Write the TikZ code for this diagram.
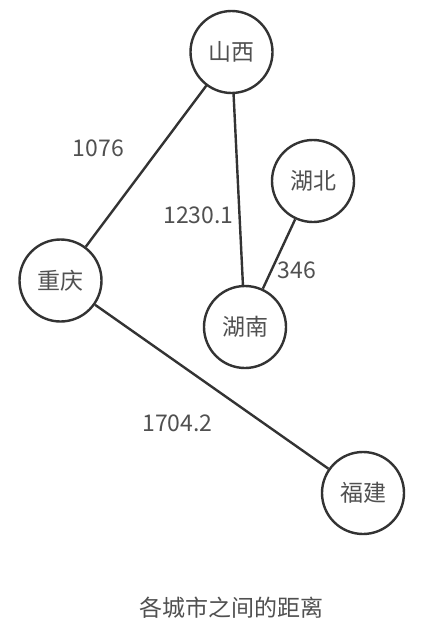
\documentclass[tikz,border=0pt]{standalone}
\usepackage{fontspec}
\setmainfont{Noto Sans CJK SC}
\usepackage{xcolor}
\definecolor{linegray}{HTML}{333333}
\definecolor{textgray}{HTML}{505050}

\begin{document}
\begin{tikzpicture}[x=1pt,y=-1pt,
  city/.style={circle, draw=linegray, line width=2.4pt, minimum size=82pt, inner sep=0pt,
    text=textgray, font=\fontsize{23}{25}\selectfont},
  dist/.style={inner sep=0pt, text=textgray, font=\fontsize{23}{25}\selectfont},
  road/.style={draw=linegray, line width=2.4pt}]
\useasboundingbox (0,0) rectangle (434,632);

% Cities
\node[city] (shanxi)    at (231.5,52)  {山西};
\node[city] (hubei)     at (313,181)   {湖北};
\node[city] (chongqing) at (60.5,280.5) {重庆};
\node[city] (hunan)     at (245,327)   {湖南};
\node[city] (fujian)    at (363,493)   {福建};

% Roads
\draw[road] (shanxi) -- (chongqing);
\draw[road] (shanxi) -- (hunan);
\draw[road] (hubei) -- (hunan);
\draw[road] (chongqing) -- (fujian);

% Distances
\node[dist] (d1076) at (98.3,148)  {1076};
\node[dist] (d1230) at (198.5,215) {1230.1};
\node[dist] (d346)  at (296.7,270) {346};
\node[dist] (d1704) at (177.5,423) {1704.2};

% Caption
\node[dist] (title) at (231,608) {各城市之间的距离};
\end{tikzpicture}
\end{document}
